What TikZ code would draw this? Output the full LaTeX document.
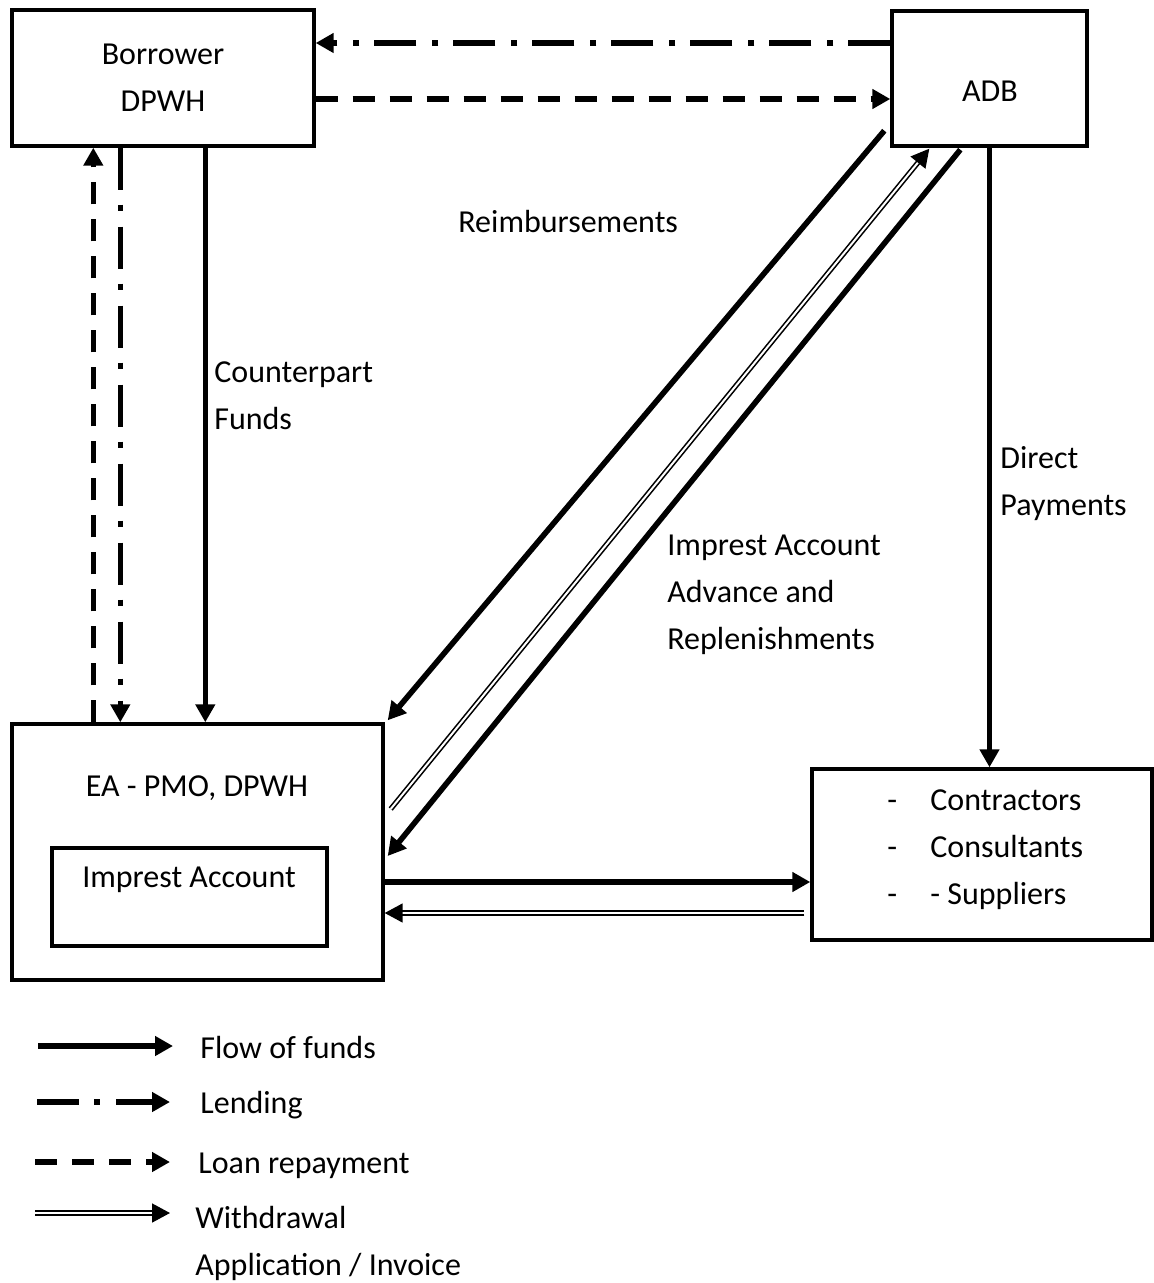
\documentclass[tikz,border=0pt]{standalone}
\usepackage{fontspec}
\setmainfont{Carlito}
\usetikzlibrary{arrows.meta,positioning,calc}

\begin{document}
\begin{tikzpicture}[x=0.5pt,y=-0.5pt,font=\fontsize{16}{23.5}\selectfont,
  >={Triangle[length=9pt,width=9.5pt]},
  box/.style={draw,line width=1.7pt,inner sep=0pt},
  txt/.style={inner sep=0pt,align=left},
  funds/.style={->,line width=2.8pt},
  lending/.style={->,line width=2.8pt,dash pattern=on 21pt off 7.5pt on 3pt off 8pt},
  repay/.style={->,line width=2.8pt,dash pattern=on 11pt off 7.5pt},
  withdraw/.style={->,draw=black,line width=0.8pt,double=white,double distance=1pt}]
\useasboundingbox (0,0) rectangle (1153,1283);

% ================= boxes =================
\node[box,minimum width=151pt,minimum height=68pt,align=center] (borrower) at (163,78) {Borrower\\DPWH};
\node[box,minimum width=97.5pt,minimum height=67.5pt] (adb) at (989.5,78.5) {};
\node[txt] (adbtxt) at (990,91) {ADB};
\node[box,minimum width=185.5pt,minimum height=128pt] (ea) at (197.5,852) {};
\node[txt] (eatxt) at (197,788) {EA - PMO, DPWH};
\node[box,minimum width=137.5pt,minimum height=49pt] (imprest) at (189.5,897) {};
\node[txt] (imprestxt) at (189,880) {Imprest Account};
\node[box,minimum width=170pt,minimum height=85.5pt] (payees) at (982,854.5) {};
\node[txt,anchor=west] (payeestxt) at (887,850)
  {\makebox[21.5pt][l]{-}Contractors\\\makebox[21.5pt][l]{-}Consultants\\\makebox[21.5pt][l]{-}- Suppliers};

% ================= labels =================
\node[txt,anchor=west] (reimb) at (458,222) {Reimbursements};
\node[txt,anchor=west] (cpfunds) at (214,396) {Counterpart\\Funds};
\node[txt,anchor=west] (direct) at (1000,484) {Direct\\Payments};
\node[txt,anchor=west] (advance) at (667,595) {Imprest Account\\Advance and\\Replenishments};

% ================= connectors =================
% between borrower and ADB
\draw[lending] ($(adb.west)+(0,-35.5)$) -- ($(borrower.east)+(0,-35)$);
\draw[repay] ($(borrower.east)+(0,21)$) -- ($(adb.west)+(0,20.5)$);
% between borrower and EA
\draw[repay] ($(ea.north west)+(83,0)$) -- ($(borrower.south west)+(83,0)$);
\draw[lending] ($(borrower.south west)+(110,0)$) -- ($(ea.north west)+(110,0)$);
\draw[funds] ($(borrower.south west)+(195,0)$) -- ($(ea.north west)+(195,0)$);
% diagonals between ADB and EA
\draw[funds] ($(adb.south west)+(-6,-17)$) -- ($(ea.north east)+(3,-2)$);
\draw[withdraw] ($(ea.east)+(6,-43)$) -- ($(adb.south west)+(39,1)$);
\draw[funds] ($(adb.south west)+(70,2)$) -- ($(ea.east)+(3,4)$);
% direct payments and the flows to the payees
\draw[funds] (adb.south) -- (adb.south |- payees.north);
\coordinate (eaout) at ($(ea.east)+(0,30)$);
\draw[funds] (eaout) -- (eaout -| payees.west);
\coordinate (payout) at ($(payees.west)+(-6,58.5)$);
\draw[withdraw] (payout) -- (payout -| ea.east);

% ================= legend =================
\coordinate (kfunds) at (38,1046);
\node[txt,anchor=west] (kfundstxt) at (200,1047) {Flow of funds};
\draw[funds,shorten >=13.5pt] (kfunds) -- (kfunds -| kfundstxt.west);
\coordinate (klend) at (37,1102);
\node[txt,anchor=west] (klendtxt) at (200,1105) {Lending};
\draw[lending,shorten >=15pt] (klend) -- (klend -| klendtxt.west);
\coordinate (krepay) at (35,1162);
\node[txt,anchor=west] (krepaytxt) at (198,1166) {Loan repayment};
\draw[repay,shorten >=14pt] (krepay) -- (krepay -| krepaytxt.west);
\coordinate (kwd) at (35,1213);
\node[txt,anchor=west] (kwdtxt) at (195,1243.5) {Withdrawal\\Application / Invoice};
\draw[withdraw,shorten >=12.5pt] (kwd) -- (kwd -| kwdtxt.west);
\end{tikzpicture}
\end{document}
